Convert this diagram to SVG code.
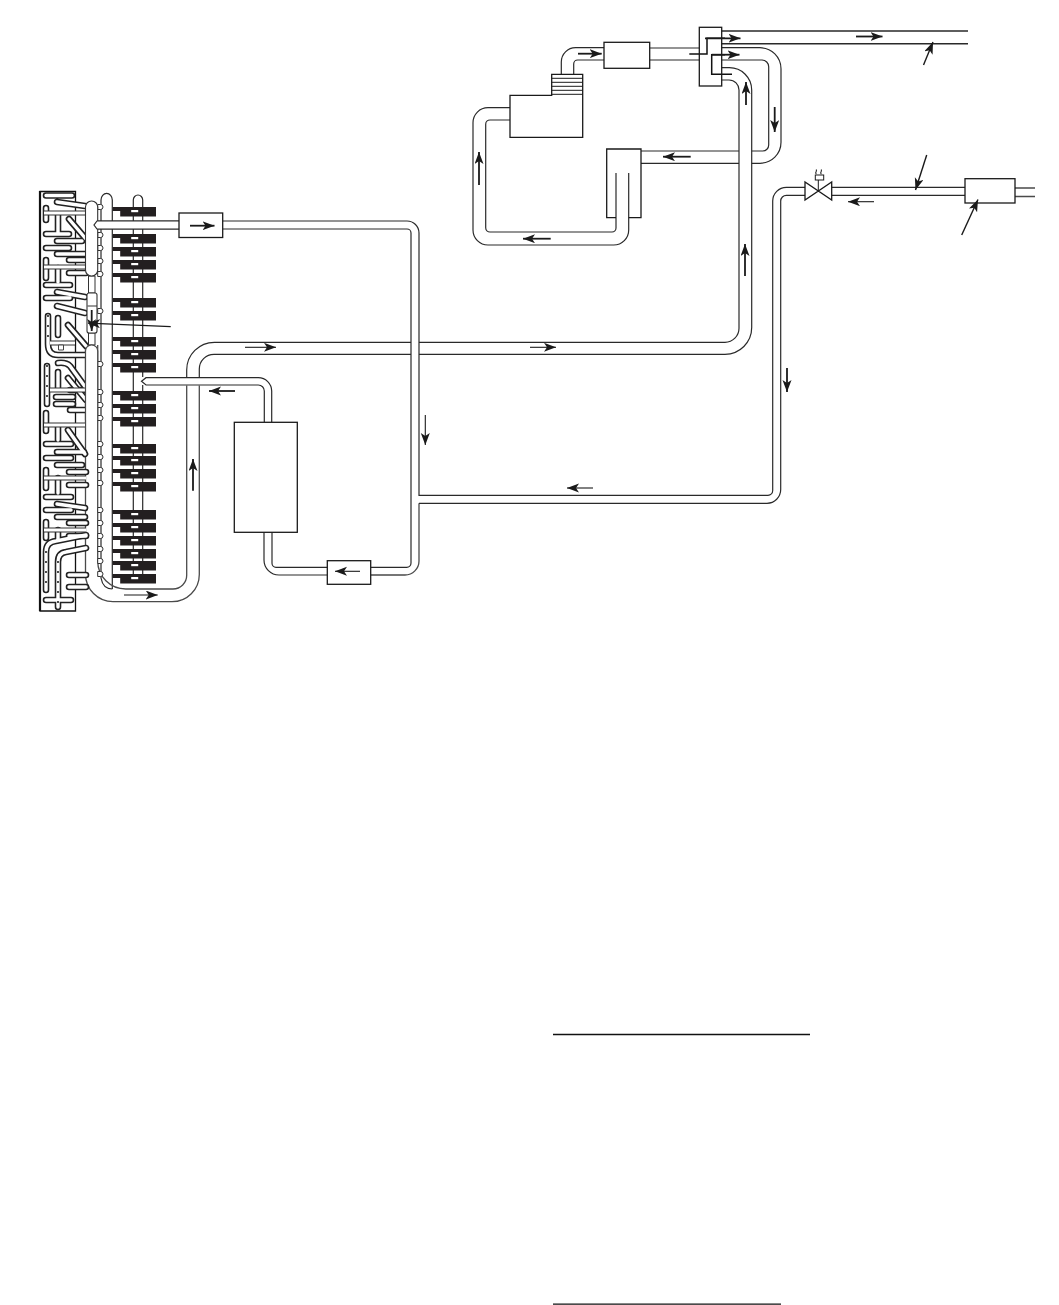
<svg xmlns="http://www.w3.org/2000/svg" xmlns:xlink="http://www.w3.org/1999/xlink" width="1059" height="1305" viewBox="0 0 1059 1305">
<style>
.p{fill:none;stroke:#2a2a2a;stroke-width:1.2}
.g{fill:none;stroke:#4a4a4a;stroke-width:1.3}
.b{fill:#fff;stroke:#1a1a1a;stroke-width:1.3}
.a{fill:none;stroke:#1a1a1a;stroke-width:1.8;marker-end:url(#h)}
.t{fill:none;stroke:#1a1a1a;stroke-width:1.1;marker-end:url(#h)}
.r{fill:none;stroke:#111;stroke-width:1.5}
</style>
<defs>
<marker id="h" markerUnits="userSpaceOnUse" markerWidth="13" markerHeight="10" refX="12" refY="4.5" orient="auto"><path d="M12,4.5L0,0L3,4.5L0,9Z" fill="#1a1a1a"/></marker>
<g id="blk"><path d="M0,0H43.3V9.5H7.5V4H0Z" fill="#231f20"/><rect x="18.5" y="3" width="7" height="2.2" fill="#fff"/></g>
<path id="stub" d="M97.7,-3.5H100.5A2.5,2.5 0 0 1 100.5,1.5H97.7Z" fill="#fff" stroke="#333" stroke-width="1"/>
<g id="tubes" fill="none" stroke-linecap="round" stroke-linejoin="round">
<path d="M46,195.5H72M57,202L85,206"/>
<path d="M46,208V220M58,215V233M69,219L86,239"/>
<path d="M46,234H69M57,241H82M46,248H69M57,254H86"/>
<path d="M46,260V278M58,268V282M69,260H86M69,273H86"/>
<path d="M46,285H70M57,292L85,297M46,298H70M57,306L85,313"/>
<path d="M48,316V344Q48,355 58,355H86M58,318V335M68,325L86,346"/>
<path d="M47,366V404M58,372V388M58,363Q66,362 70,366L86,388M68,378L86,400"/>
<path d="M56,397H73M56,404H73M70,390H86M70,410H86"/>
<path d="M46,413V431M58,427V440M68,430L85,454"/>
<path d="M46,444H71M57,452H84M46,458H71M57,465H82"/>
<path d="M46,470V488M58,478V493M69,472H86M69,485H86"/>
<path d="M46,497H71M57,504L85,508M46,510H71M57,517H85"/>
<path d="M46,522V538M58,530V540M69,523H86M69,536H86"/>
<path d="M46,590V552Q46,542 56,541L86,535M58,607V562Q58,553 66,552L86,548M69,575H86M69,587H86M46,600H71"/>
</g>
</defs>
<rect width="1059" height="1305" fill="#fff"/>

<g id="connectors">
<path class="p" d="M101,578V200A5.6,6.5 0 0 1 112.3,200V589"/>
<path class="p" d="M101,578Q103,589 112.3,589"/>
<path class="p" d="M133.3,583V200A4.7,5 0 0 1 142.7,200V377M142.7,385V583"/>
<path class="g" d="M85.5,345V574A27.7,27.7 0 0 0 113,601.7H172A27.3,27.3 0 0 0 199.3,574.4V385.5"/>
<path class="p" d="M199.3,377.5V369A14.7,14.7 0 0 1 214,354.3H411M419,354.3H725A26.7,26.7 0 0 0 751.7,327.6V90A22.3,22.3 0 0 0 729.4,67.7H721.7"/>
<path class="g" d="M97.7,345V561A28,28 0 0 0 125.7,589H173A13.7,13.7 0 0 0 186.7,575.3V385.5"/>
<path class="p" d="M186.7,377.5V370A27.7,27.7 0 0 1 214.4,342.3H411M419,342.3H725A14,14 0 0 0 739,328.3V90A10,10 0 0 0 729,80H721.7"/>
<path class="p" d="M95,221H179M97,229H179"/>
<path class="p" d="M222.7,221H407A12,12 0 0 1 419,233V495.3H768A4.7,4.7 0 0 0 772.7,490.6V201A13.7,13.7 0 0 1 786.4,187.3H805"/>
<path class="p" d="M222.7,229H407A4,4 0 0 1 411,233V563A4.3,4.3 0 0 1 406.7,567.3H370.7"/>
<path class="g" d="M419,503.3V561A14,14 0 0 1 405,575H370.7"/>
<path class="p" d="M419,503.3H767A13.7,13.7 0 0 0 780.7,489.6V201A5.7,5.7 0 0 1 786.4,195.3H805"/>
<path class="p" d="M327.3,575H279A15,15 0 0 1 264,560V532.3M327.3,567.3H276A4,4 0 0 1 272,563.3V532.3"/>
<path class="p" d="M264.3,422V391A6,6 0 0 0 258.3,385H146L141.5,381.3L146,377.7H258.3A13.4,13.4 0 0 1 271.7,391V422"/>
<path class="p" d="M832,187.3H965M832,195.3H965"/>
<path class="g" d="M1015,188H1035M1015,196.5H1035"/>
<path class="p" d="M721.7,47.7H760A21,21 0 0 1 781,68.7V142.3A21,21 0 0 1 760,163.3H751.7M739,163.3H641M721.7,60H762A6.7,6.7 0 0 1 768.7,66.7V145A6,6 0 0 1 762.7,151H751.7M739,151H641"/>
<path class="p" d="M616,173V228A4,4 0 0 1 612,232H490A4.3,4.3 0 0 1 485.7,227.7V124.3A4.3,4.3 0 0 1 490,120H510M628.7,173V230A15,15 0 0 1 613.7,245H488A15,15 0 0 1 473,230V122.7A15,15 0 0 1 488,107.7H510"/>
<path class="p" d="M561.3,74.3V62A14.3,14.3 0 0 1 575.6,47.7H604M573.7,74.3V64A4,4 0 0 1 577.7,60H604M649.7,48H699.3M649.7,60H699.3"/>
<path class="p" style="stroke-width:1.5" d="M721.7,31H968M721.7,43.7H968"/>
<path class="r" d="M689.3,54H707V38.3H725"/>
<path class="r" d="M732,74.3H711.7V54.7H725"/>
</g>

<g id="coil-panel">
<path d="M40,611V191.5H75.5V611Z" fill="#fff" stroke="#111" stroke-width="1.3"/>
<path d="M40,191V611" stroke="#111" stroke-width="2.2"/>
<use xlink:href="#tubes" href="#tubes" stroke="#222" stroke-width="6.6"/>
<use xlink:href="#tubes" href="#tubes" stroke="#fff" stroke-width="3.4"/>
<path d="M44,213H86M44,267H86M50,343H75M50,390H86M44,425H85M44,478H86M44,530H86" stroke="#333" stroke-width="5" fill="none"/>
<path d="M44,213H86M44,267H86M50,343H75M50,390H86M44,425H85M44,478H86M44,530H86" stroke="#fff" stroke-width="3" fill="none"/>
<path d="M58.5,345h5v5h-5z" fill="#fff" stroke="#444" stroke-width="1"/>
<path d="M48,316V345M47,366V404M46,552V590M58,562V607" fill="none" stroke="#111" stroke-width="2" stroke-linecap="round" stroke-dasharray="0 10"/>
</g>

<g id="header">
<use xlink:href="#stub" href="#stub" y="208"/><use xlink:href="#stub" href="#stub" y="236"/><use xlink:href="#stub" href="#stub" y="249"/><use xlink:href="#stub" href="#stub" y="262"/><use xlink:href="#stub" href="#stub" y="275"/><use xlink:href="#stub" href="#stub" y="312"/><use xlink:href="#stub" href="#stub" y="365"/><use xlink:href="#stub" href="#stub" y="393"/><use xlink:href="#stub" href="#stub" y="406"/><use xlink:href="#stub" href="#stub" y="419"/><use xlink:href="#stub" href="#stub" y="445"/><use xlink:href="#stub" href="#stub" y="458"/><use xlink:href="#stub" href="#stub" y="471"/><use xlink:href="#stub" href="#stub" y="484"/><use xlink:href="#stub" href="#stub" y="511"/><use xlink:href="#stub" href="#stub" y="524"/><use xlink:href="#stub" href="#stub" y="537"/><use xlink:href="#stub" href="#stub" y="550"/><use xlink:href="#stub" href="#stub" y="562"/><use xlink:href="#stub" href="#stub" y="575"/>
<path d="M88.5,276H95V293H88.5Z M88.5,333H95V345H88.5Z" fill="#fff" stroke="#333" stroke-width="1"/>
<rect x="85.5" y="201" width="12.2" height="75" rx="6" fill="#fff" stroke="#333" stroke-width="1.1"/>
<rect x="87" y="293" width="10" height="40" rx="2" fill="#fff" stroke="#333" stroke-width="1.1"/>
<path d="M85.5,420V351A6,6 0 0 1 97.7,351V420Z" fill="#fff" stroke="none"/>
<path d="M85.5,420V351A6,6 0 0 1 97.7,351V420" fill="none" stroke="#4a4a4a" stroke-width="1.2"/>
<path d="M87.5,306H97" stroke="#333" stroke-width="1"/>
<path d="M97,221H179V229H97L94,225Z" fill="#fff"/>
<path d="M179,221H97L94,225L97,229H179" fill="none" stroke="#2a2a2a" stroke-width="1.2"/>
</g>

<g id="header-blocks">
<use xlink:href="#blk" href="#blk" x="112.7" y="207"/><use xlink:href="#blk" href="#blk" x="112.7" y="234"/><use xlink:href="#blk" href="#blk" x="112.7" y="247"/><use xlink:href="#blk" href="#blk" x="112.7" y="260"/><use xlink:href="#blk" href="#blk" x="112.7" y="273"/><use xlink:href="#blk" href="#blk" x="112.7" y="298"/><use xlink:href="#blk" href="#blk" x="112.7" y="311"/><use xlink:href="#blk" href="#blk" x="112.7" y="337"/><use xlink:href="#blk" href="#blk" x="112.7" y="350"/><use xlink:href="#blk" href="#blk" x="112.7" y="363"/><use xlink:href="#blk" href="#blk" x="112.7" y="391"/><use xlink:href="#blk" href="#blk" x="112.7" y="404"/><use xlink:href="#blk" href="#blk" x="112.7" y="417"/><use xlink:href="#blk" href="#blk" x="112.7" y="444"/><use xlink:href="#blk" href="#blk" x="112.7" y="456"/><use xlink:href="#blk" href="#blk" x="112.7" y="469"/><use xlink:href="#blk" href="#blk" x="112.7" y="482"/><use xlink:href="#blk" href="#blk" x="112.7" y="510"/><use xlink:href="#blk" href="#blk" x="112.7" y="523"/><use xlink:href="#blk" href="#blk" x="112.7" y="536"/><use xlink:href="#blk" href="#blk" x="112.7" y="549"/><use xlink:href="#blk" href="#blk" x="112.7" y="561"/><use xlink:href="#blk" href="#blk" x="112.7" y="574"/>
</g>

<g id="box-supply"><rect class="b" x="179" y="213" width="43.7" height="24.5"/></g>
<g id="box-return"><rect class="b" x="327.3" y="560.7" width="43.4" height="23.6"/></g>
<g id="tank"><rect class="b" x="234.3" y="422.3" width="63" height="110"/></g>
<g id="box-top"><rect class="b" x="604" y="42.3" width="45.7" height="26"/></g>
<g id="manifold"><rect class="b" style="fill:none" x="699.3" y="27.3" width="22.4" height="58.7"/></g>
<g id="box-right"><rect class="b" x="965" y="178.7" width="50" height="24.3"/></g>
<g id="collector"><path class="b" d="M616,217.7H606.7V149H641V217.7H628.7" style="fill:none"/></g>
<g id="exchanger">
<path class="b" style="fill:none" d="M551.7,95.3V74.3H582.7V137.3H510V95.3Z"/>
<path d="M551.7,78.3H582.7M551.7,82.3H582.7M551.7,86.3H582.7M551.7,90.3H582.7M551.7,94.3H582.7" stroke="#1a1a1a" stroke-width="1"/>
</g>
<g id="valve">
<path d="M805,182V200L831.7,182V200Z" fill="#fff" stroke="#1a1a1a" stroke-width="1.3"/>
<path d="M818.3,191V180" stroke="#1a1a1a" stroke-width="1"/>
<rect x="815.3" y="175" width="8.4" height="5" fill="#fff" stroke="#1a1a1a" stroke-width="1"/>
<path d="M816.5,174C814,172.5 818,171.5 816,169.5M821.5,174C819,172.5 823,171.5 821,169.5" fill="none" stroke="#333" stroke-width="1.1"/>
</g>

<g id="arrows">
<path class="a" d="M190,225.7H214.5"/>
<path class="a" d="M91.7,310V331"/>
<path class="a" style="stroke-width:1.3" d="M170.7,326.7L88,323.2"/>
<path class="t" d="M124,595H157.7"/>
<path class="a" d="M193,490.7V459"/>
<path class="t" d="M245,347.3H276"/>
<path class="t" d="M530,347.3H556"/>
<path class="a" d="M235,391H209"/>
<path class="t" d="M425.3,415V445"/>
<path class="t" d="M360,571.3H335"/>
<path class="t" d="M593,488H567"/>
<path class="a" d="M787,368V392"/>
<path class="a" d="M745,276V244"/>
<path class="a" d="M746,105V82"/>
<path class="a" d="M774.7,107V132"/>
<path class="a" d="M690.7,156.7H663"/>
<path class="a" d="M550.7,238.7H523"/>
<path class="a" d="M479,185V152"/>
<path class="a" d="M578,53.7H601.7"/>
<path class="a" d="M705,38.3H740.5"/>
<path class="a" d="M711.7,54.7H739.5"/>
<path class="a" d="M856,36.5H882.5"/>
<path class="t" d="M874,201.7H848"/>
<path class="a" style="stroke-width:1.4" d="M923.5,65L933,42"/>
<path class="a" style="stroke-width:1.4" d="M926.7,155L915.5,190"/>
<path class="a" style="stroke-width:1.4" d="M961.7,235L978,199.5"/>
</g>

<g id="rules">
<path d="M553,1034.5H810M553,1304.2H781" stroke="#111" stroke-width="1.3"/>
</g>
</svg>
